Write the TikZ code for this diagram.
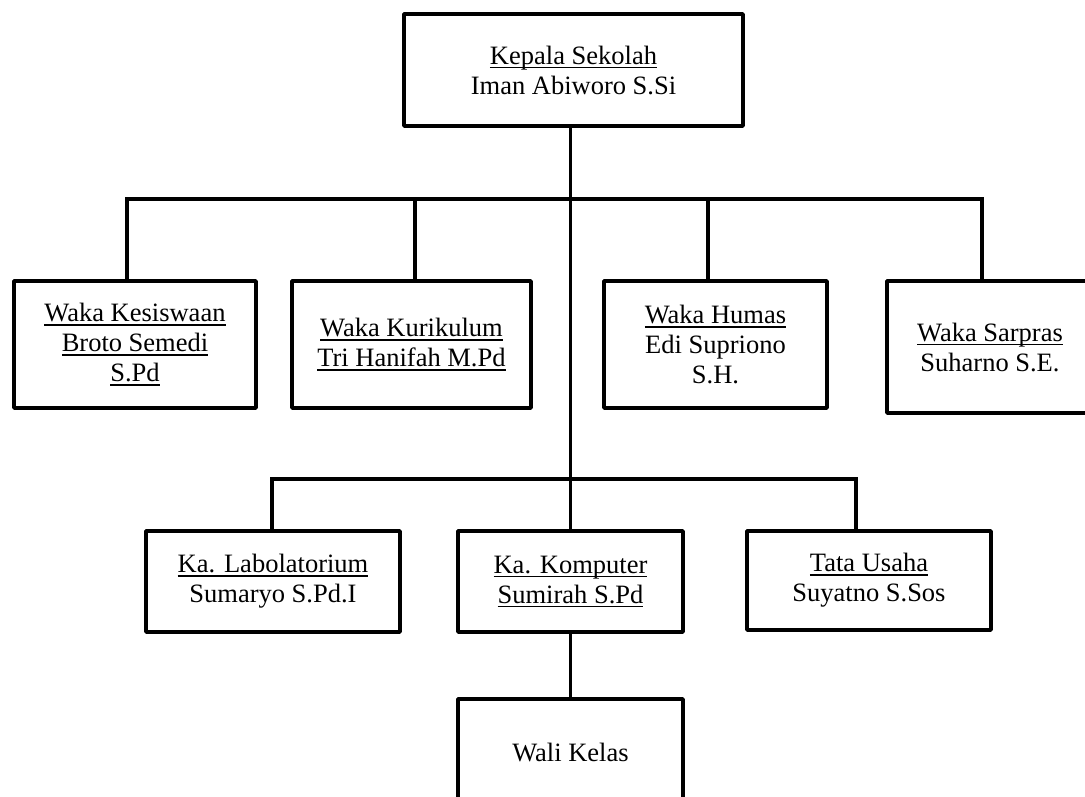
\documentclass[tikz,border=0pt]{standalone}
\usepackage{fontspec}
\setmainfont{Liberation Serif}
\newcommand\myul[1]{\leavevmode\setbox0\hbox{#1}\rlap{\rule[-4.2pt]{\wd0}{1.7pt}}\box0}
\begin{document}
\begin{tikzpicture}[x=1pt,y=-1pt,
  box/.style={draw, line width=3.8pt, line join=round, rectangle, inner sep=0pt,
    align=center, font=\fontsize{26.5}{30}\selectfont},
  conn/.style={line width=3.8pt, line cap=rect}]
\useasboundingbox (0,0) rectangle (1085,796);
\clip (0,0) rectangle (1085,796);
\fill[white] (0,0) rectangle (1085,796);
% nodes
\node[box, minimum width=339pt, minimum height=112pt] (top) at (573.5,70) {\myul{Kepala Sekolah}\\Iman Abiworo S.Si};
\node[box, minimum width=242pt, minimum height=127pt] (kes) at (135,344.5) {\myul{Waka Kesiswaan}\\\myul{Broto Semedi}\\\myul{S.Pd}};
\node[box, minimum width=239pt, minimum height=127pt] (kur) at (411.5,344.5) {\myul{Waka Kurikulum}\\\myul{Tri Hanifah M.Pd}};
\node[box, minimum width=223pt, minimum height=127pt] (hum) at (715.5,344.5) {\myul{Waka Humas}\\Edi Supriono\\S.H.};
\node[box, minimum width=206pt, minimum height=132pt] (sar) at (990,347) {\myul{Waka Sarpras}\\Suharno S.E.};
\node[box, minimum width=254pt, minimum height=101pt] (lab) at (273,581.5) {\myul{Ka. Labolatorium}\\Sumaryo S.Pd.I};
\node[box, minimum width=225pt, minimum height=101pt] (komp) at (570.5,581.5) {\myul{Ka. Komputer}\\\myul{Sumirah S.Pd}};
\node[box, minimum width=244pt, minimum height=99pt] (tu) at (869,580.5) {\myul{Tata Usaha}\\Suyatno S.Sos};
\node[box, minimum width=225pt, minimum height=106pt] (wali) at (570.5,752) {Wali Kelas};
% junction coordinates
\coordinate (b1L) at (127,199);
\coordinate (b1a) at (415,199);
\coordinate (b1b) at (708,199);
\coordinate (b1R) at (982,199);
\coordinate (b2L) at (272,479);
\coordinate (b2R) at (856,479);
% connectors
\draw[conn] (komp.north |- top.south) -- (komp.north);
\draw[conn] (b1L) -- (b1R);
\draw[conn] (b1L) -- (b1L |- kes.north);
\draw[conn] (b1a) -- (b1a |- kur.north);
\draw[conn] (b1b) -- (b1b |- hum.north);
\draw[conn] (b1R) -- (b1R |- sar.north);
\draw[conn] (b2L) -- (b2R);
\draw[conn] (b2L) -- (b2L |- lab.north);
\draw[conn] (b2R) -- (b2R |- tu.north);
\draw[conn] (komp.south) -- (wali.north);
\end{tikzpicture}
\end{document}
